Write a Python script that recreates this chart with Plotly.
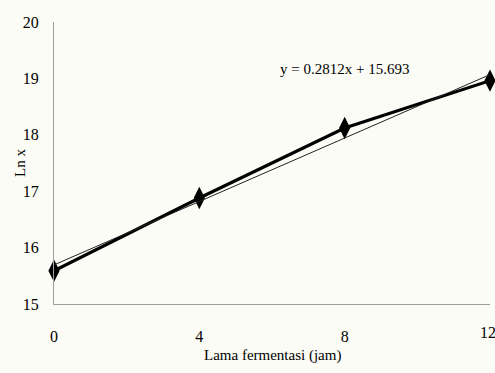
import plotly.graph_objects as go

# Fermentation time (hours) and natural log of cell count
lama_jam = [0, 4, 8, 12]
ln_x = [15.59, 16.88, 18.12, 18.96]

# Linear trendline coefficients
slope = 0.2812
intercept = 15.693
trend_y = [slope * t + intercept for t in lama_jam]

x_ticks = [0, 4, 8, 12]
y_ticks = [15, 16, 17, 18, 19, 20]

bg = "#fcfcf6"
font_family = "Liberation Serif"
txt = dict(family=font_family, size=15, color="black")

fig = go.Figure()

fig.add_trace(go.Scatter(
    x=lama_jam, y=ln_x, mode="lines+markers",
    line=dict(color="black", width=3.2),
    marker=dict(symbol="diamond-tall", size=16, color="black"),
    showlegend=False, cliponaxis=False,
))

fig.add_trace(go.Scatter(
    x=[lama_jam[0], lama_jam[-1]], y=[trend_y[0], trend_y[-1]], mode="lines",
    line=dict(color="#222222", width=1),
    showlegend=False, cliponaxis=False,
))

fig.add_annotation(
    x=8.0, y=19.16, xref="x", yref="y",
    text=f"y = {slope}x + {intercept}", showarrow=False, font=txt,
)

# last x tick label sits on the page edge, drawn as an annotation so it is not dropped
fig.add_annotation(
    x=x_ticks[-1], y=0, xref="x", yref="paper", yshift=-28, xshift=-2,
    xanchor="center", yanchor="middle",
    text=str(x_ticks[-1]), showarrow=False,
    font=dict(family=font_family, size=16, color="black"),
)

# axis titles
fig.add_annotation(
    x=0.5, y=0, xref="paper", yref="paper", yshift=-51, yanchor="middle",
    text="Lama fermentasi (jam)", showarrow=False, font=txt,
)
fig.add_annotation(
    x=0, y=0.5, xref="paper", yref="paper", xshift=-34, xanchor="center",
    text="Ln x", textangle=-90, showarrow=False, font=txt,
)

fig.update_layout(
    width=495, height=373,
    margin=dict(l=54, r=5, t=22, b=69, autoexpand=False),
    paper_bgcolor=bg, plot_bgcolor=bg,
    font=dict(family=font_family, size=16, color="black"),
    xaxis=dict(
        range=[0, 12], tickvals=x_ticks[:-1], ticktext=[str(v) for v in x_ticks[:-1]],
        showgrid=False, zeroline=False, showline=True, linecolor="#a0a0a0", linewidth=1,
        ticks="outside", ticklen=18, tickcolor=bg, automargin=False,
    ),
    yaxis=dict(
        range=[15, 20], tickvals=y_ticks, ticktext=[str(v) for v in y_ticks],
        showgrid=False, zeroline=False, showline=True, linecolor="#a0a0a0", linewidth=1,
        ticks="outside", ticklen=11, tickcolor=bg, automargin=False,
    ),
)

fig.write_html("out.html")
